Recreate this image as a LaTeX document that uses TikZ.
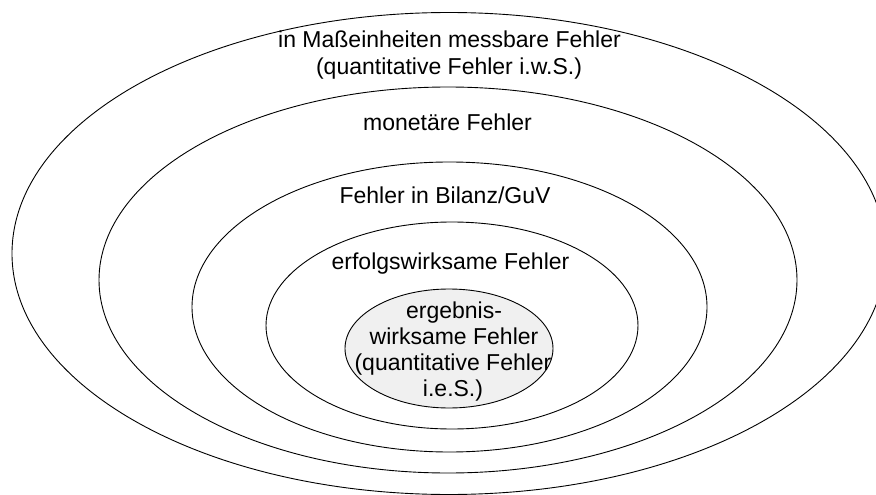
\documentclass[tikz,border=0pt]{standalone}
\usepackage{fontspec}
\setmainfont{Liberation Sans}
\usetikzlibrary{shapes.geometric}

\begin{document}
\begin{tikzpicture}[x=1pt,y=-1pt,
  ring/.style={draw=black,line width=0.9pt,ellipse,inner sep=0pt,
               minimum width=#1},
  core/.style={ring=#1,fill=coregray},
  label/.style={anchor=base,inner sep=0pt,
                font=\fontsize{23}{26}\selectfont}]
\definecolor{coregray}{RGB}{240,240,240}
\useasboundingbox (0,0) rectangle (876,495);
\clip (0,0) rectangle (876,495);

% nested sets of errors, outermost first
\node[ring=874pt,minimum height=482pt] (quant) at (449,253.5) {};
\node[ring=698pt,minimum height=386pt] (money) at (448,280) {};
\node[ring=515pt,minimum height=290pt] (bal)   at (449.5,307) {};
\node[ring=372pt,minimum height=207pt] (succ)  at (452,325.5) {};
\node[core=208pt,minimum height=119pt] (res)   at (449,348.5) {};

% captions
\node[label] (quant1) at (449.5,48) {in Maßeinheiten messbare Fehler};
\node[label] (quant2) at (449,75)   {(quantitative Fehler i.w.S.)};
\node[label] (moneyt) at (447.5,130) {monetäre Fehler};
\node[label] (balt)   at (445,203)  {Fehler in Bilanz/GuV};
\node[label] (succt)  at (450.5,269) {erfolgswirksame Fehler};
\node[label] (res1)   at (454,318)  {ergebnis-};
\node[label] (res2)   at (454,344)  {wirksame Fehler};
\node[label] (res3)   at (453,370)  {(quantitative Fehler};
\node[label] (res4)   at (453,396)  {i.e.S.)};
\end{tikzpicture}
\end{document}
